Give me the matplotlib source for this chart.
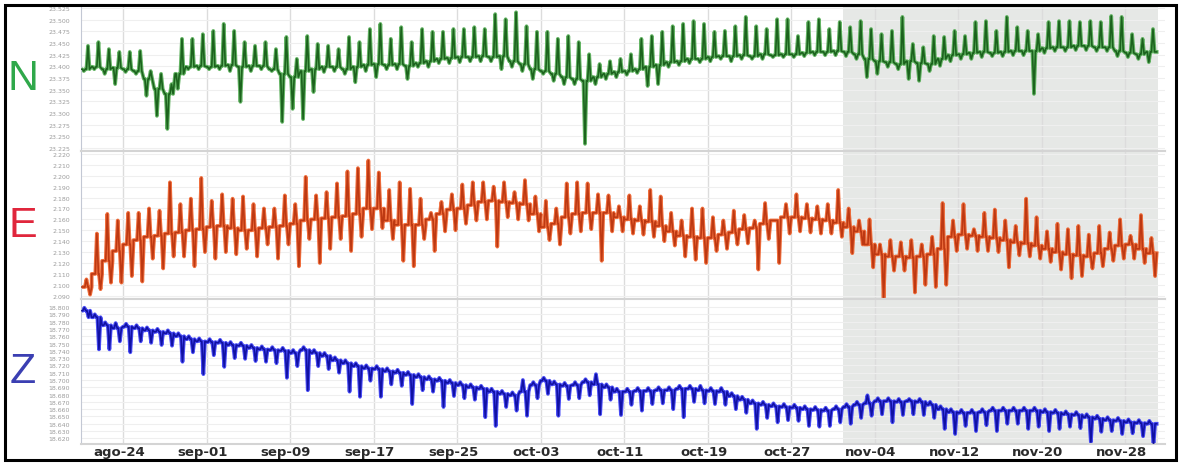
import numpy as np
import pandas as pd
import matplotlib
matplotlib.use("Agg")
import matplotlib.pyplot as plt
from matplotlib import transforms
from matplotlib.patches import Rectangle

# Daily readings, one value per day from ago-20 on (base level, daily high, daily low)
start = pd.Timestamp("2019-08-20")

n_base = [23.394, 23.399, 23.394, 23.397, 23.394, 23.390, 23.373, 23.352, 23.341, 23.384,
          23.399, 23.401, 23.399, 23.401, 23.403, 23.399, 23.401, 23.401, 23.394, 23.384,
          23.377, 23.390, 23.394, 23.399, 23.399, 23.394, 23.399, 23.403, 23.405, 23.403,
          23.405, 23.401, 23.407, 23.411, 23.416, 23.418, 23.420, 23.420, 23.422, 23.420,
          23.422, 23.411, 23.405, 23.394, 23.390, 23.384, 23.377, 23.373, 23.369, 23.377,
          23.384, 23.388, 23.390, 23.394, 23.399, 23.403, 23.409, 23.411, 23.416, 23.416,
          23.420, 23.422, 23.422, 23.424, 23.422, 23.426, 23.424, 23.426, 23.426, 23.429,
          23.431, 23.431, 23.433, 23.431, 23.426, 23.416, 23.411, 23.409, 23.405, 23.411,
          23.407, 23.405, 23.416, 23.424, 23.426, 23.429, 23.431, 23.429, 23.431, 23.433,
          23.433, 23.433, 23.439, 23.441, 23.441, 23.444, 23.444, 23.441, 23.441, 23.433,
          23.429, 23.426, 23.431]
n_high = [23.444, 23.452, 23.437, 23.431, 23.431, 23.433, 23.390, 23.384, 23.362, 23.459,
          23.459, 23.469, 23.476, 23.491, 23.476, 23.452, 23.444, 23.452, 23.437, 23.463,
          23.416, 23.465, 23.448, 23.444, 23.437, 23.463, 23.452, 23.480, 23.491, 23.459,
          23.484, 23.452, 23.480, 23.474, 23.474, 23.480, 23.480, 23.484, 23.480, 23.512,
          23.501, 23.516, 23.486, 23.474, 23.474, 23.459, 23.465, 23.452, 23.426, 23.405,
          23.411, 23.416, 23.426, 23.459, 23.465, 23.474, 23.486, 23.491, 23.497, 23.491,
          23.474, 23.476, 23.486, 23.506, 23.486, 23.480, 23.501, 23.501, 23.465, 23.495,
          23.501, 23.480, 23.495, 23.484, 23.497, 23.480, 23.469, 23.476, 23.506, 23.448,
          23.441, 23.465, 23.463, 23.476, 23.465, 23.495, 23.497, 23.476, 23.506, 23.484,
          23.476, 23.469, 23.495, 23.497, 23.497, 23.495, 23.497, 23.495, 23.508, 23.506,
          23.469, 23.459, 23.480]
n_low = [23.390, 23.394, 23.384, 23.362, 23.388, 23.384, 23.337, 23.294, 23.266, 23.352,
         23.394, 23.394, 23.394, 23.394, 23.390, 23.324, 23.390, 23.394, 23.390, 23.281,
         23.309, 23.287, 23.345, 23.388, 23.390, 23.384, 23.366, 23.390, 23.377, 23.394,
         23.394, 23.373, 23.399, 23.399, 23.407, 23.407, 23.409, 23.411, 23.411, 23.411,
         23.394, 23.399, 23.390, 23.373, 23.384, 23.369, 23.362, 23.362, 23.234, 23.362,
         23.373, 23.377, 23.382, 23.386, 23.358, 23.362, 23.399, 23.403, 23.407, 23.409,
         23.411, 23.416, 23.411, 23.416, 23.416, 23.416, 23.420, 23.420, 23.420, 23.422,
         23.424, 23.424, 23.424, 23.422, 23.416, 23.377, 23.384, 23.399, 23.394, 23.373,
         23.369, 23.390, 23.401, 23.411, 23.416, 23.416, 23.420, 23.422, 23.422, 23.424,
         23.424, 23.341, 23.429, 23.433, 23.433, 23.435, 23.435, 23.433, 23.433, 23.422,
         23.420, 23.416, 23.409]

e_base = [2.098, 2.110, 2.122, 2.131, 2.137, 2.141, 2.144, 2.145, 2.147, 2.148,
          2.150, 2.151, 2.153, 2.154, 2.152, 2.150, 2.150, 2.152, 2.153, 2.154,
          2.156, 2.159, 2.160, 2.161, 2.162, 2.163, 2.165, 2.170, 2.170, 2.159,
          2.155, 2.155, 2.155, 2.160, 2.165, 2.169, 2.170, 2.173, 2.176, 2.177,
          2.176, 2.175, 2.174, 2.165, 2.153, 2.156, 2.162, 2.165, 2.166, 2.166,
          2.166, 2.162, 2.160, 2.159, 2.158, 2.154, 2.149, 2.145, 2.144, 2.143,
          2.143, 2.146, 2.148, 2.151, 2.152, 2.156, 2.159, 2.162, 2.162, 2.161,
          2.160, 2.159, 2.157, 2.153, 2.149, 2.137, 2.128, 2.126, 2.126, 2.125,
          2.126, 2.128, 2.133, 2.144, 2.146, 2.145, 2.144, 2.143, 2.141, 2.139,
          2.138, 2.136, 2.133, 2.130, 2.128, 2.127, 2.126, 2.129, 2.133, 2.136,
          2.137, 2.133, 2.129]
e_high = [2.105, 2.147, 2.165, 2.159, 2.166, 2.166, 2.170, 2.168, 2.194, 2.174,
          2.179, 2.198, 2.177, 2.183, 2.179, 2.181, 2.174, 2.170, 2.170, 2.182,
          2.174, 2.199, 2.182, 2.185, 2.193, 2.204, 2.207, 2.214, 2.203, 2.187,
          2.194, 2.188, 2.179, 2.166, 2.176, 2.183, 2.192, 2.194, 2.194, 2.190,
          2.194, 2.185, 2.196, 2.181, 2.177, 2.170, 2.193, 2.194, 2.193, 2.183,
          2.182, 2.172, 2.182, 2.172, 2.187, 2.181, 2.166, 2.159, 2.170, 2.170,
          2.162, 2.159, 2.168, 2.164, 2.159, 2.175, 2.159, 2.174, 2.183, 2.174,
          2.172, 2.174, 2.187, 2.170, 2.159, 2.160, 2.137, 2.141, 2.139, 2.141,
          2.137, 2.144, 2.175, 2.159, 2.174, 2.151, 2.166, 2.169, 2.159, 2.154,
          2.179, 2.162, 2.149, 2.156, 2.151, 2.154, 2.146, 2.154, 2.148, 2.160,
          2.145, 2.164, 2.143]
e_low = [2.091, 2.096, 2.102, 2.102, 2.108, 2.103, 2.124, 2.115, 2.126, 2.126,
         2.117, 2.130, 2.124, 2.130, 2.128, 2.133, 2.126, 2.137, 2.124, 2.137,
         2.117, 2.142, 2.120, 2.133, 2.142, 2.131, 2.144, 2.151, 2.152, 2.142,
         2.122, 2.117, 2.142, 2.131, 2.149, 2.150, 2.156, 2.159, 2.160, 2.135,
         2.162, 2.160, 2.159, 2.149, 2.141, 2.137, 2.147, 2.149, 2.151, 2.122,
         2.149, 2.149, 2.147, 2.146, 2.144, 2.140, 2.136, 2.126, 2.123, 2.120,
         2.131, 2.133, 2.137, 2.138, 2.114, 2.142, 2.120, 2.147, 2.149, 2.148,
         2.147, 2.147, 2.144, 2.129, 2.137, 2.116, 2.088, 2.113, 2.113, 2.093,
         2.100, 2.098, 2.100, 2.131, 2.133, 2.131, 2.131, 2.130, 2.116, 2.127,
         2.126, 2.124, 2.121, 2.114, 2.106, 2.108, 2.115, 2.117, 2.122, 2.124,
         2.124, 2.120, 2.108]

z_base = [18.795, 18.786, 18.775, 18.771, 18.773, 18.771, 18.768, 18.766, 18.764, 18.760,
          18.756, 18.753, 18.752, 18.751, 18.748, 18.747, 18.744, 18.742, 18.741, 18.740,
          18.737, 18.741, 18.737, 18.733, 18.727, 18.723, 18.719, 18.716, 18.715, 18.712,
          18.710, 18.707, 18.704, 18.701, 18.699, 18.696, 18.693, 18.690, 18.688, 18.684,
          18.681, 18.679, 18.684, 18.693, 18.699, 18.694, 18.692, 18.693, 18.697, 18.694,
          18.690, 18.684, 18.684, 18.685, 18.685, 18.686, 18.686, 18.688, 18.688, 18.686,
          18.685, 18.684, 18.678, 18.673, 18.668, 18.666, 18.664, 18.663, 18.662, 18.660,
          18.659, 18.658, 18.660, 18.663, 18.666, 18.668, 18.671, 18.671, 18.670, 18.671,
          18.670, 18.666, 18.660, 18.656, 18.655, 18.655, 18.656, 18.658, 18.658, 18.658,
          18.658, 18.658, 18.656, 18.655, 18.653, 18.652, 18.649, 18.647, 18.645, 18.644,
          18.642, 18.641, 18.640]
z_high = [18.799, 18.790, 18.779, 18.778, 18.777, 18.775, 18.772, 18.770, 18.768, 18.764,
          18.760, 18.757, 18.756, 18.755, 18.752, 18.751, 18.748, 18.746, 18.745, 18.744,
          18.741, 18.745, 18.741, 18.737, 18.731, 18.727, 18.723, 18.720, 18.719, 18.716,
          18.714, 18.711, 18.708, 18.705, 18.703, 18.700, 18.697, 18.694, 18.692, 18.688,
          18.685, 18.683, 18.700, 18.697, 18.703, 18.698, 18.696, 18.697, 18.701, 18.708,
          18.694, 18.688, 18.688, 18.689, 18.689, 18.690, 18.690, 18.692, 18.692, 18.692,
          18.689, 18.689, 18.682, 18.677, 18.672, 18.670, 18.668, 18.667, 18.666, 18.664,
          18.663, 18.662, 18.664, 18.667, 18.670, 18.679, 18.675, 18.675, 18.674, 18.674,
          18.674, 18.670, 18.664, 18.660, 18.659, 18.659, 18.660, 18.662, 18.662, 18.662,
          18.662, 18.662, 18.660, 18.659, 18.657, 18.656, 18.653, 18.651, 18.649, 18.648,
          18.646, 18.645, 18.644]
z_low = [18.786, 18.742, 18.742, 18.753, 18.738, 18.753, 18.751, 18.748, 18.747, 18.725,
         18.738, 18.708, 18.734, 18.718, 18.730, 18.729, 18.726, 18.725, 18.723, 18.703,
         18.719, 18.686, 18.719, 18.715, 18.710, 18.684, 18.677, 18.699, 18.677, 18.694,
         18.692, 18.667, 18.686, 18.684, 18.663, 18.678, 18.675, 18.673, 18.649, 18.637,
         18.663, 18.658, 18.651, 18.675, 18.681, 18.651, 18.674, 18.675, 18.679, 18.653,
         18.673, 18.652, 18.666, 18.658, 18.667, 18.668, 18.660, 18.649, 18.670, 18.668,
         18.667, 18.666, 18.660, 18.655, 18.633, 18.648, 18.642, 18.645, 18.644, 18.637,
         18.636, 18.637, 18.642, 18.640, 18.648, 18.651, 18.653, 18.642, 18.652, 18.653,
         18.652, 18.648, 18.633, 18.626, 18.637, 18.630, 18.638, 18.630, 18.640, 18.640,
         18.633, 18.636, 18.630, 18.633, 18.636, 18.634, 18.615, 18.629, 18.630, 18.626,
         18.627, 18.623, 18.611]

n_ticks = [23.225, 23.250, 23.275, 23.300, 23.325, 23.350, 23.375, 23.400,
           23.425, 23.450, 23.475, 23.500, 23.525]
e_ticks = [2.090, 2.100, 2.110, 2.120, 2.130, 2.140, 2.150, 2.160, 2.170,
           2.180, 2.190, 2.200, 2.210, 2.220]
z_ticks = [18.620, 18.630, 18.640, 18.650, 18.660, 18.670, 18.680, 18.690, 18.700,
           18.710, 18.720, 18.730, 18.740, 18.750, 18.760, 18.770, 18.780, 18.790, 18.800]

date_labels = ["ago-24", "sep-01", "sep-09", "sep-17", "sep-25", "oct-03", "oct-11",
               "oct-19", "oct-27", "nov-04", "nov-12", "nov-20", "nov-28"]
date_ticks = pd.date_range("2019-08-24", periods=len(date_labels), freq="8D")
shade_from = pd.Timestamp("2019-11-01")


def build_trace(base, high, low, f_high, f_low, half=0.15):
    # each day: base level, then a triangular excursion to the high and to the low
    t, v = [], []
    for d, (b, h, lo) in enumerate(zip(base, high, low)):
        t.append(d)
        v.append(b)
        for f, val in sorted([(f_high, h), (f_low, lo)]):
            t += [d + f - half, d + f, d + f + half]
            v += [b, val, b]
    t.append(len(base))
    v.append(base[-1])
    return start + pd.to_timedelta(t, unit="D"), v


W, H = 1180, 464
fig = plt.figure(figsize=(W / 100, H / 100), dpi=100)
fig.patch.set_facecolor("white")

panels = [
    # top px, bottom px, data, spike phases, ylim, ticks, letter, letter colour, halo, core
    (6, 152, (n_base, n_high, n_low), (0.65, 0.25), (23.2187, 23.5315), n_ticks,
     "N", "#2fa84a", "#4aa84a", "#145a16"),
    (152, 300, (e_base, e_high, e_low), (0.5, 0.85), (2.0870, 2.2227), e_ticks,
     "E", "#e0263c", "#ee561c", "#b8330e"),
    (300, 445, (z_base, z_high, z_low), (0.3, 0.7), (18.6123, 18.8110), z_ticks,
     "Z", "#3b3fb2", "#2a2ef5", "#0b0b9a"),
]

x_left = start + pd.Timedelta(days=-0.02)
x_right = start + pd.Timedelta(days=103.8)
shade_to = start + pd.Timedelta(days=103.1)

axes = []
for top, bottom, (b, h, lo), (fh, fl), ylim, ticks, letter, lcol, halo, core in panels:
    ax = fig.add_axes([81 / W, 1 - bottom / H, (1165 - 81) / W, (bottom - top) / H])
    axes.append(ax)
    t, v = build_trace(b, h, lo, fh, fl)
    ax.axvspan(shade_from, shade_to, color="#e6e8e6", lw=0, zorder=0)
    ax.plot(t, v, color=halo, lw=2.7, alpha=0.85, zorder=2)
    ax.plot(t, v, color=core, lw=1.2, alpha=0.9, zorder=3)
    ax.set_xlim(x_left, x_right)
    ax.set_ylim(*ylim)
    ax.set_yticks(ticks)
    ax.set_yticklabels([f"{tk:.3f}" for tk in ticks])
    ax.set_xticks(date_ticks)
    ax.set_axisbelow(True)
    ax.grid(axis="y", color="#efefef", lw=0.8)
    ax.grid(axis="x", color="#dcdcdc", lw=1.0)
    ax.tick_params(axis="y", length=0, pad=8, labelsize=4.5, labelcolor="#9c9c9c")
    ax.tick_params(axis="x", length=0, pad=1)
    for side in ("top", "bottom"):
        ax.spines[side].set_color("#d4d4d4")
        ax.spines[side].set_linewidth(1.5)
    ax.spines["left"].set_color("#c3c8d4")
    ax.spines["right"].set_visible(False)
    fig.text(23 / W, 1 - (top + bottom) / 2 / H, letter, color=lcol, fontsize=31,
             ha="center", va="center", family="Liberation Sans")

for ax in axes[:-1]:
    ax.set_xticklabels([])

axes[-1].set_xticklabels(date_labels, fontsize=9.5, fontweight="bold",
                         color="#2b2b2b", family="DejaVu Sans")
shift = transforms.ScaledTranslation(-4 / 100, 0, fig.dpi_scale_trans)
for lab in axes[-1].get_xticklabels():
    lab.set_transform(lab.get_transform() + shift)

# frame around the whole chart
fig.add_artist(Rectangle((4.5 / W, 3.0 / H), (1175.5 - 4.5) / W, (460.5 - 5.0) / H,
                         transform=fig.transFigure, fill=False, ec="black", lw=2.2))

fig.savefig("out.png", dpi=100, facecolor="white")
